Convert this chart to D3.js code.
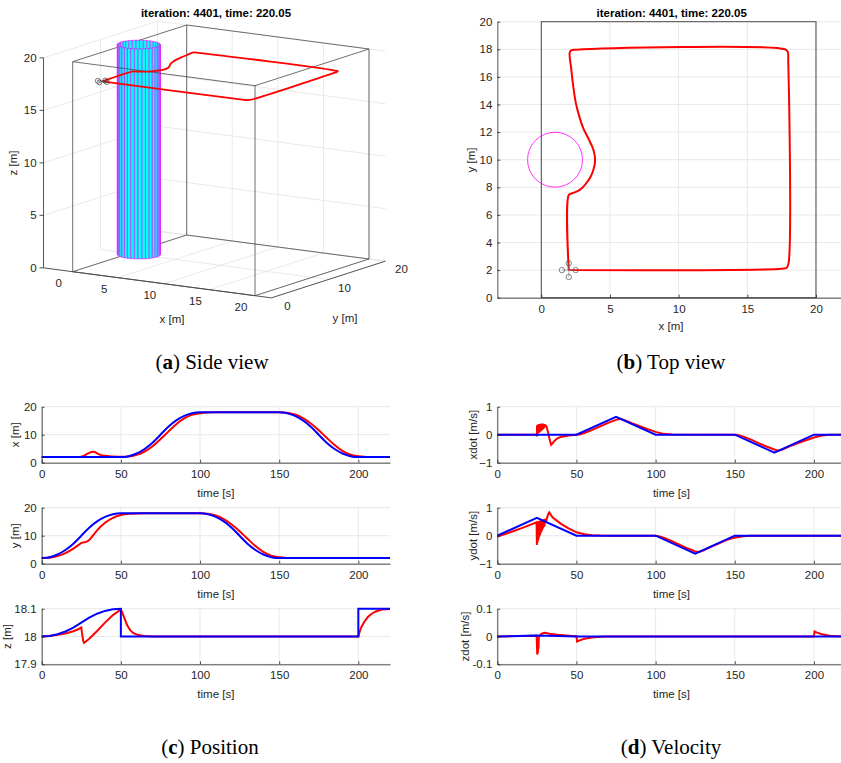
<!DOCTYPE html>
<html>
<head>
<meta charset="utf-8">
<script src="https://cdn.jsdelivr.net/npm/d3@7"></script>
<style>
  body { margin: 0; background: #fff; }
  text { font-family: "Liberation Sans", Arial, sans-serif; fill: #262626; }
  .cap { font-family: "Liberation Serif", "Times New Roman", serif; font-size: 21px; fill: #000; }
</style>
</head>
<body>
<svg id="fig" width="841" height="763"></svg>
<script>
// ---------------- data ----------------
const titleText = 'iteration: 4401, time: 220.05';

// flight path seen from above (x, y) [m], flown at about z = 18
const trajX = [2, 2, 2.2, 2.57, 2.99, 3.3, 3.59, 3.79, 3.91, 3.86, 3.71, 3.42, 3.06, 2.77, 2.52, 2.33, 2.16, 2.06, 2.14, 2.57, 17.74, 17.94, 17.98, 18, 17.86, 17.5, 2];
const trajY = [2, 7.44, 7.55, 7.68, 7.97, 8.33, 8.77, 9.25, 9.86, 10.46, 10.94, 11.55, 12.27, 13.12, 14.08, 15.29, 16.74, 17.71, 17.9, 17.97, 18, 17.83, 17.1, 2.49, 2.17, 2.1, 2];
const flightZ = 18;

const obstacleCenter = [1, 10];
const obstacleRadius = 2;
const obstacleHeight = [0, 20];
const roomSize = [20, 20, 20];
const quadPos = [2, 2];
const quadArm = 0.5;

// time series [t, value]
const tTicks = [0, 50, 100, 150, 200];

const posXRef = [[0,2],[50,2],[55,2.32],[60,3.28],[65,4.88],[70,7.12],[75,10],[80,12.88],[85,15.12],[90,16.72],[95,17.68],[100,18],
  [150,18],[155,17.68],[160,16.72],[165,15.12],[170,12.88],[175,10],[180,7.12],[185,4.88],[190,3.28],[195,2.32],[200,2],[220,2]];
const posXAct = [[0,2],[24,2],[26,2.3],[28,2.9],[30,3.5],[32,3.9],[33.5,3.85],[35,3.3],[37,2.8],[40,2.45],[45,2.2],[50,2.1],[55,2.2],[60,2.8],
  [65,4.0],[70,5.9],[75,8.4],[80,11.1],[85,13.7],[90,15.8],[95,17.1],[100,17.7],[105,17.95],[110,18],[150,18],[155,17.85],[160,17.2],
  [165,15.9],[170,14.0],[175,11.6],[180,8.9],[185,6.3],[190,4.2],[195,2.9],[200,2.3],[205,2.07],[210,2.01],[220,2]];

const posYRef = [[0,2],[5,2.32],[10,3.28],[15,4.88],[20,7.12],[25,10],[30,12.88],[35,15.12],[40,16.72],[45,17.68],[50,18],
  [100,18],[105,17.68],[110,16.72],[115,15.12],[120,12.88],[125,10],[130,7.12],[135,4.88],[140,3.28],[145,2.32],[150,2],[220,2]];
const posYAct = [[0,2],[5,2.15],[10,2.7],[15,3.8],[20,5.4],[24,7.0],[25,7.4],[26,7.55],[27,7.65],[28,7.8],[30,8.5],[32,9.8],[35,11.9],
  [40,14.6],[45,16.4],[50,17.4],[55,17.85],[60,17.97],[65,18],[100,18],[105,17.85],[110,17.2],[115,15.9],[120,14.0],[125,11.6],
  [130,8.9],[135,6.3],[140,4.2],[145,2.9],[150,2.3],[155,2.07],[160,2.01],[220,2]];

const posZRef = [[0,18],[5,18.002],[10,18.008],[15,18.018],[20,18.032],[25,18.05],[30,18.068],[35,18.082],[40,18.092],[45,18.098],[50,18.1],
  [50,18],[200,18],[200,18.1],[220,18.1]];
const posZAct = [[0,18],[5,18.002],[10,18.006],[15,18.011],[20,18.019],[23,18.026],[25,18.033],[25.5,18.01],[26.2,17.985],[26.8,17.977],
  [27.5,17.98],[30,17.992],[35,18.02],[40,18.05],[45,18.077],[50,18.097],[51,18.085],[52,18.07],[54,18.04],[56,18.022],[58,18.012],
  [61,18.005],[65,18.002],[70,18],[200,18],[201,18.02],[202,18.035],[204,18.055],[206,18.07],[208,18.08],[211,18.09],[215,18.097],[220,18.099]];

const velXRef = [[0,0],[50,0],[75,0.64],[100,0],[150,0],[175,-0.64],[200,0],[220,0]];
const velXAct = [[0,0],[24.9,0],[25,-0.06],[25.1,0.33],[25.3,0.02],[25.5,0.35],[25.7,0.05],[25.9,0.36],[26.1,0.06],[26.3,0.37],[26.5,0.08],
  [26.7,0.38],[26.9,0.1],[27.1,0.38],[27.3,0.12],[27.5,0.39],[27.7,0.14],[27.9,0.4],[28.1,0.16],[28.3,0.4],[28.5,0.18],[28.7,0.4],
  [28.9,0.2],[29.1,0.39],[29.3,0.22],[29.5,0.38],[29.7,0.25],[29.9,0.37],[30.1,0.27],[30.3,0.36],[30.6,0.3],[31,0.3],[32,0.1],
  [33,-0.15],[34,-0.36],[35,-0.3],[36,-0.22],[38,-0.13],[40,-0.08],[45,-0.03],[50,0],[52,0.01],[55,0.06],[60,0.17],[65,0.3],
  [70,0.42],[75,0.53],[77.5,0.57],[80,0.53],[85,0.41],[90,0.3],[95,0.2],[100,0.1],[105,0.03],[110,0.005],[150,0],[152,-0.01],
  [155,-0.06],[160,-0.17],[165,-0.3],[170,-0.42],[175,-0.53],[177.5,-0.57],[180,-0.53],[185,-0.41],[190,-0.3],[195,-0.2],
  [200,-0.1],[205,-0.03],[210,-0.005],[220,0]];

const velYRef = [[0,0],[25,0.64],[50,0],[100,0],[125,-0.64],[150,0],[220,0]];
const velYAct = [[0,-0.03],[5,0.06],[10,0.16],[15,0.26],[20,0.37],[24.8,0.48],[25,-0.33],[25.2,0.5],[25.4,-0.25],[25.6,0.5],[25.8,-0.17],
  [26,0.51],[26.2,-0.1],[26.4,0.52],[26.6,-0.03],[26.8,0.53],[27,0.03],[27.2,0.54],[27.4,0.09],[27.6,0.55],[27.8,0.14],[28,0.56],
  [28.2,0.19],[28.4,0.57],[28.6,0.23],[28.8,0.58],[29,0.27],[29.2,0.58],[29.4,0.31],[29.6,0.59],[29.8,0.35],[30,0.6],[30.5,0.45],
  [31,0.55],[32,0.75],[32.8,0.83],[35,0.65],[40,0.43],[45,0.26],[50,0.12],[55,0.05],[60,0.02],[65,0.005],[70,0],[100,0],[102,-0.02],
  [105,-0.07],[110,-0.19],[115,-0.32],[120,-0.45],[125,-0.56],[127.5,-0.58],[130,-0.53],[135,-0.4],[140,-0.27],[145,-0.15],
  [150,-0.07],[155,-0.02],[160,0],[220,0]];

const velZRef = [[0,0],[25,0.004],[50,0],[220,0]];
const velZAct = [[0,0],[24.8,0.003],[25,-0.02],[25.2,-0.065],[25.4,-0.05],[25.6,-0.06],[25.8,-0.03],[26,-0.045],[26.2,-0.005],[26.6,0.002],
  [28,0.01],[30,0.013],[33,0.01],[38,0.006],[45,0.003],[50,0.001],[50.4,-0.018],[52,-0.014],[55,-0.008],[60,-0.004],[65,-0.001],
  [70,0],[200,0],[200.4,0.018],[202,0.014],[205,0.008],[210,0.003],[215,0.001],[220,0]];

// ---------------- drawing ----------------
const svg = d3.select('#fig');
const ink = '#262626';
const gridCol = '#dfdfdf';
const boxCol = '#4a4a4a';
const red = '#ff0000', blue = '#0000ff';
const fs = 11.5;

function seg(g, a, b, color, w) {
  g.append('line')
    .attr('x1', a[0]).attr('y1', a[1])
    .attr('x2', b[0]).attr('y2', b[1])
    .attr('stroke', color).attr('stroke-width', w);
}

// ===== (a) 3D side view =====
const xLim3 = [-3.2, 21.8], yLim3 = [0, 20], zLim3 = [0, 20];
const origin3 = [72.7, 271.7];
const xToPx = d3.scaleLinear().domain([0, 20]).range([0, 182.3]);
const xToPy = d3.scaleLinear().domain([0, 20]).range([0, 24]);
const yToPx = d3.scaleLinear().domain([0, 20]).range([0, 114]);
const yToPy = d3.scaleLinear().domain([0, 20]).range([0, -36.7]);
const zToPy = d3.scaleLinear().domain([0, 20]).range([0, -210]);
const proj = (x, y, z) => [origin3[0] + xToPx(x) + yToPx(y), origin3[1] + xToPy(x) + yToPy(y) + zToPy(z)];
const depth = (x, y) => xToPy(x) + yToPy(y);

const g3 = svg.append('g');
const xTicks3 = [0, 5, 10, 15, 20], yTicks3 = [0, 10, 20], zTicks3 = [0, 5, 10, 15, 20];
const [x0, x1] = xLim3, [y0, y1] = yLim3, [z0, z1] = zLim3;

// grid: floor, left wall, back wall
xTicks3.forEach(x => seg(g3, proj(x, y0, z0), proj(x, y1, z0), gridCol, 0.7));
yTicks3.filter(y => y > y0).forEach(y => seg(g3, proj(x0, y, z0), proj(x1, y, z0), gridCol, 0.7));
zTicks3.filter(z => z > z0).forEach(z => seg(g3, proj(x0, y0, z), proj(x0, y1, z), gridCol, 0.7));
yTicks3.filter(y => y > y0).forEach(y => seg(g3, proj(x0, y, z0), proj(x0, y, z1), gridCol, 0.7));
zTicks3.forEach(z => seg(g3, proj(x0, y1, z), proj(x1, y1, z), gridCol, 0.7));
xTicks3.forEach(x => seg(g3, proj(x, y1, z0), proj(x, y1, z1), gridCol, 0.7));

// axis lines
seg(g3, proj(x0, y0, z0), proj(x1, y0, z0), ink, 0.8);
seg(g3, proj(x1, y0, z0), proj(x1, y1, z0), ink, 0.8);
seg(g3, proj(x0, y0, z0), proj(x0, y0, z1), ink, 0.8);
zTicks3.forEach(z => { const p = proj(x0, y0, z); seg(g3, p, [p[0] - 4, p[1]], ink, 0.8); });

// tick labels
xTicks3.forEach(x => {
  const p = proj(x, y0, z0);
  g3.append('text').attr('x', p[0] - 14).attr('y', p[1] + 15).attr('text-anchor', 'middle')
    .attr('font-size', fs).text(x);
});
yTicks3.forEach(y => {
  const p = proj(x1, y, z0);
  g3.append('text').attr('x', p[0] + 16).attr('y', p[1] + 12).attr('text-anchor', 'middle')
    .attr('font-size', fs).text(y);
});
zTicks3.forEach(z => {
  const p = proj(x0, y0, z);
  g3.append('text').attr('x', p[0] - 7).attr('y', p[1] + 4).attr('text-anchor', 'end')
    .attr('font-size', fs).text(z);
});
g3.append('text').attr('x', 172).attr('y', 323).attr('text-anchor', 'middle').attr('font-size', fs).text('x [m]');
g3.append('text').attr('x', 345).attr('y', 322).attr('text-anchor', 'middle').attr('font-size', fs).text('y [m]');
g3.append('text').attr('transform', 'translate(17,163) rotate(-90)').attr('text-anchor', 'middle').attr('font-size', fs).text('z [m]');
g3.append('text').attr('x', 216).attr('y', 17).attr('text-anchor', 'middle').attr('font-size', fs)
  .attr('font-weight', 'bold').style('fill', '#000').text(titleText);

// room box: back edges first
const [rx, ry, rz] = roomSize;
const backEdges = [
  [[0,0,0],[0,ry,0]], [[0,0,rz],[0,ry,rz]], [[0,ry,0],[rx,ry,0]], [[0,ry,rz],[rx,ry,rz]],
  [[0,ry,0],[0,ry,rz]], [[rx,ry,0],[rx,ry,rz]]
];
const frontEdges = [
  [[0,0,0],[rx,0,0]], [[0,0,rz],[rx,0,rz]], [[rx,0,0],[rx,ry,0]], [[rx,0,rz],[rx,ry,rz]],
  [[0,0,0],[0,0,rz]], [[rx,0,0],[rx,0,rz]]
];
backEdges.forEach(e => seg(g3, proj(...e[0]), proj(...e[1]), boxCol, 0.8));

// cylinder obstacle, faces painted far to near
const nFaces = 36;
const faces = d3.range(nFaces).map(i => {
  const a0 = 2 * Math.PI * i / nFaces, a1 = 2 * Math.PI * (i + 1) / nFaces;
  const p0 = [obstacleCenter[0] + obstacleRadius * Math.cos(a0), obstacleCenter[1] + obstacleRadius * Math.sin(a0)];
  const p1 = [obstacleCenter[0] + obstacleRadius * Math.cos(a1), obstacleCenter[1] + obstacleRadius * Math.sin(a1)];
  return {
    pts: [proj(p0[0], p0[1], obstacleHeight[0]), proj(p1[0], p1[1], obstacleHeight[0]),
          proj(p1[0], p1[1], obstacleHeight[1]), proj(p0[0], p0[1], obstacleHeight[1])],
    d: depth((p0[0] + p1[0]) / 2, (p0[1] + p1[1]) / 2)
  };
}).sort((a, b) => a.d - b.d);
g3.selectAll('.cyl').data(faces).join('polygon')
  .attr('points', f => f.pts.map(p => p.join(',')).join(' '))
  .attr('fill', '#00ffff').attr('stroke', '#ff00ff').attr('stroke-width', 0.6)
  .attr('stroke-linejoin', 'round');

frontEdges.forEach(e => seg(g3, proj(...e[0]), proj(...e[1]), boxCol, 0.8));

// flight path
const path3 = d3.line().curve(d3.curveCatmullRom.alpha(0.5));
g3.append('path').attr('d', path3(trajX.map((x, i) => proj(x, trajY[i], flightZ))))
  .attr('fill', 'none').attr('stroke', red).attr('stroke-width', 1.8);

// quad rotors
const rotors = [[quadArm, 0], [-quadArm, 0], [0, quadArm], [0, -quadArm]];
rotors.forEach(r => seg(g3, proj(quadPos[0], quadPos[1], flightZ), proj(quadPos[0] + r[0], quadPos[1] + r[1], flightZ), '#555', 0.6));
rotors.forEach(r => {
  const p = proj(quadPos[0] + r[0], quadPos[1] + r[1], flightZ);
  g3.append('circle').attr('cx', p[0]).attr('cy', p[1]).attr('r', 2.5)
    .attr('fill', 'none').attr('stroke', '#444').attr('stroke-width', 0.7);
});

// ===== (b) top view =====
const gT = svg.append('g');
const xTop = d3.scaleLinear().domain([-3.2, 21.8]).range([497.35, 840.7]);
const yTop = d3.scaleLinear().domain([0, 20]).range([297.7, 21.7]);
const xTicksT = [0, 5, 10, 15, 20], yTicksT = d3.range(0, 21, 2);

gT.selectAll('.vg').data(xTicksT).join('line')
  .attr('x1', d => xTop(d)).attr('x2', d => xTop(d)).attr('y1', yTop(0)).attr('y2', yTop(20))
  .attr('stroke', gridCol).attr('stroke-width', 0.7);
gT.selectAll('.hg').data(yTicksT).join('line')
  .attr('x1', xTop(-3.2)).attr('x2', xTop(21.8)).attr('y1', d => yTop(d)).attr('y2', d => yTop(d))
  .attr('stroke', gridCol).attr('stroke-width', 0.7);

// room outline
gT.append('rect').attr('x', xTop(0)).attr('y', yTop(roomSize[1])).attr('width', xTop(roomSize[0]) - xTop(0))
  .attr('height', yTop(0) - yTop(roomSize[1])).attr('fill', 'none').attr('stroke', boxCol).attr('stroke-width', 1);

gT.append('circle').attr('cx', xTop(obstacleCenter[0])).attr('cy', yTop(obstacleCenter[1]))
  .attr('r', xTop(obstacleRadius) - xTop(0)).attr('fill', 'none').attr('stroke', '#ff00ff').attr('stroke-width', 0.8);

const pathT = d3.line().x(d => xTop(d[0])).y(d => yTop(d[1])).curve(d3.curveCatmullRom.alpha(0.5));
gT.append('path').attr('d', pathT(trajX.map((x, i) => [x, trajY[i]])))
  .attr('fill', 'none').attr('stroke', red).attr('stroke-width', 2);

rotors.forEach(r => seg(gT, [xTop(quadPos[0]), yTop(quadPos[1])], [xTop(quadPos[0] + r[0]), yTop(quadPos[1] + r[1])], '#777', 0.6));
rotors.forEach(r => {
  gT.append('circle').attr('cx', xTop(quadPos[0] + r[0])).attr('cy', yTop(quadPos[1] + r[1])).attr('r', 2.7)
    .attr('fill', 'none').attr('stroke', '#555').attr('stroke-width', 0.7);
});

function styleAxis(a) {
  a.select('.domain').attr('stroke', ink).attr('stroke-width', 0.8);
  a.selectAll('.tick line').attr('stroke', ink).attr('stroke-width', 0.8);
  a.selectAll('text').attr('font-size', fs).attr('font-family', '"Liberation Sans", Arial, sans-serif').style('fill', ink);
}
gT.append('g').attr('transform', `translate(0,${yTop(0)})`)
  .call(d3.axisBottom(xTop).tickValues(xTicksT).tickSize(-3).tickSizeOuter(0).tickPadding(7)).call(styleAxis);
gT.append('g').attr('transform', `translate(${xTop(-3.2)},0)`)
  .call(d3.axisLeft(yTop).tickValues(yTicksT).tickSize(-3).tickSizeOuter(0).tickPadding(5)).call(styleAxis);
gT.append('text').attr('x', 671).attr('y', 330).attr('text-anchor', 'middle').attr('font-size', fs).text('x [m]');
gT.append('text').attr('transform', 'translate(475,160) rotate(-90)').attr('text-anchor', 'middle').attr('font-size', fs).text('y [m]');
gT.append('text').attr('x', 671.7).attr('y', 17).attr('text-anchor', 'middle').attr('font-size', fs)
  .attr('font-weight', 'bold').style('fill', '#000').text(titleText);

// ===== (c) / (d) time panels =====
function panel(left, right, top, bot, yDom, yTicks, fmt, yLab, labX, ref, act, smooth) {
  const g = svg.append('g');
  const t = d3.scaleLinear().domain([0, 220]).range([left, right]);
  const v = d3.scaleLinear().domain(yDom).range([bot, top]);
  g.selectAll('.vg').data(tTicks).join('line')
    .attr('x1', d => t(d)).attr('x2', d => t(d)).attr('y1', top).attr('y2', bot)
    .attr('stroke', gridCol).attr('stroke-width', 0.7);
  g.selectAll('.hg').data(yTicks).join('line')
    .attr('x1', left).attr('x2', right).attr('y1', d => v(d)).attr('y2', d => v(d))
    .attr('stroke', gridCol).attr('stroke-width', 0.7);
  const line = d3.line().x(d => t(d[0])).y(d => v(d[1])).curve(smooth ? d3.curveMonotoneX : d3.curveLinear);
  g.append('path').datum(act).attr('d', line).attr('fill', 'none').attr('stroke', red).attr('stroke-width', 2);
  g.append('path').datum(ref).attr('d', line).attr('fill', 'none').attr('stroke', blue).attr('stroke-width', 2);
  g.append('g').attr('transform', `translate(0,${bot})`)
    .call(d3.axisBottom(t).tickValues(tTicks).tickSize(-3).tickSizeOuter(0).tickPadding(7)).call(styleAxis);
  g.append('g').attr('transform', `translate(${left},0)`)
    .call(d3.axisLeft(v).tickValues(yTicks).tickFormat(fmt).tickSize(-3).tickSizeOuter(0).tickPadding(5)).call(styleAxis);
  g.append('text').attr('x', (left + right) / 2).attr('y', bot + 34).attr('text-anchor', 'middle').attr('font-size', fs).text('time [s]');
  g.append('text').attr('transform', `translate(${labX},${(top + bot) / 2}) rotate(-90)`)
    .attr('text-anchor', 'middle').attr('font-size', fs).text(yLab);
}

const rows = [[406.7, 462.7], [507.7, 563.7], [608.7, 664.3]];
const fInt = d3.format('d');
panel(41.7, 390, ...rows[0], [0, 20], [0, 10, 20], fInt, 'x [m]', 19, posXRef, posXAct, true);
panel(41.7, 390, ...rows[1], [0, 20], [0, 10, 20], fInt, 'y [m]', 19, posYRef, posYAct, true);
panel(41.7, 390, ...rows[2], [17.9, 18.1], [17.9, 18, 18.1], d => d === 18 ? '18' : d.toFixed(1), 'z [m]', 11, posZRef, posZAct, false);
panel(497.3, 845.6, ...rows[0], [-1, 1], [-1, 0, 1], fInt, 'xdot [m/s]', 477, velXRef, velXAct, false);
panel(497.3, 845.6, ...rows[1], [-1, 1], [-1, 0, 1], fInt, 'ydot [m/s]', 477, velYRef, velYAct, false);
panel(497.3, 845.6, ...rows[2], [-0.1, 0.1], [-0.1, 0, 0.1], d => d === 0 ? '0' : d.toFixed(1), 'zdot [m/s]', 469, velZRef, velZAct, false);

// ===== captions =====
const captions = [['a', ' Side view', 212, 369], ['b', ' Top view', 671, 369], ['c', ' Position', 210, 754], ['d', ' Velocity', 671, 754]];
captions.forEach(c => {
  const t = svg.append('text').attr('class', 'cap').attr('x', c[2]).attr('y', c[3]).attr('text-anchor', 'middle');
  t.append('tspan').text('(');
  t.append('tspan').attr('font-weight', 'bold').text(c[0]);
  t.append('tspan').text(')' + c[1]);
});
</script>
</body>
</html>
